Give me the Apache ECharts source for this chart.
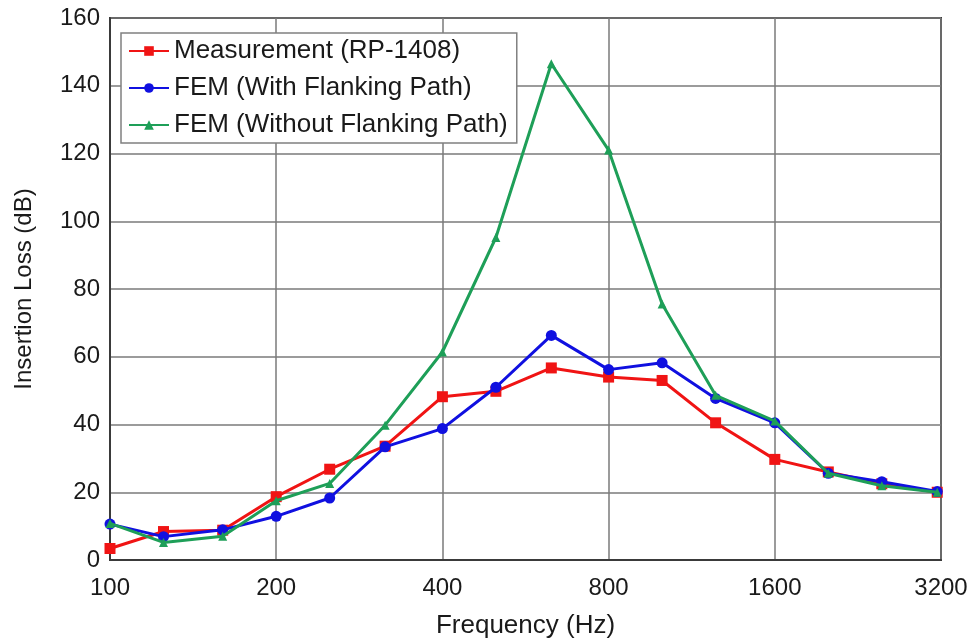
<!DOCTYPE html>
<html>
<head>
<meta charset="utf-8">
<script src="https://cdn.jsdelivr.net/npm/echarts@6/dist/echarts.min.js"></script>
<style>
html,body{margin:0;padding:0;background:#fff;}
#chart{width:975px;height:644px;}
</style>
</head>
<body>
<div id="chart"></div>
<script>
// Frequencies (Hz), one-third octave bands
const frequencies = [100,125,160,200,250,315,400,500,630,800,1000,1250,1600,2000,2500,3150];
// Insertion loss (dB)
const measurement = [3.4, 8.4, 8.8, 18.7, 26.8, 33.6, 48.2, 49.8, 56.7, 54.0, 53.0, 40.5, 29.7, 26.0, 22.5, 20.0];
const femWith     = [10.6, 6.9, 8.9, 12.9, 18.3, 33.4, 38.8, 51.0, 66.3, 56.2, 58.2, 47.7, 40.5, 25.6, 23.1, 20.2];
const femWithout  = [10.8, 5.2, 7.0, 17.5, 22.6, 39.8, 61.4, 95.2, 146.5, 121.0, 75.6, 48.6, 41.0, 25.6, 21.9, 20.0];
const seriesNames = ['Measurement (RP-1408)', 'FEM (With Flanking Path)', 'FEM (Without Flanking Path)'];
const xTickFreqs = [100, 200, 400, 800, 1600, 3200];
const yTicks = [0, 20, 40, 60, 80, 100, 120, 140, 160];

const F0 = xTickFreqs[0];
const toOct = f => Math.log2(f / F0);
const pairs = arr => frequencies.map((f, i) => [toOct(f), arr[i]]);

const font = 'Liberation Sans, Arial, sans-serif';
const txt = '#1a1a1a';
const chart = echarts.init(document.getElementById('chart'));
chart.setOption({
  animation: false,
  backgroundColor: '#fff',
  grid: {left: 110, right: 34, top: 18, bottom: 83, show: true, borderColor: '#3a3a3a', borderWidth: 2, backgroundColor: 'transparent'},
  legend: {
    orient: 'vertical', left: 121, top: 33,
    backgroundColor: '#fff', borderColor: '#808080', borderWidth: 1.5,
    padding: [5, 9, 5, 7], itemGap: 11, itemWidth: 40, itemHeight: 12,
    textStyle: {fontFamily: font, fontSize: 26, color: txt},
    data: seriesNames
  },
  xAxis: {
    type: 'value', min: 0, max: toOct(xTickFreqs[xTickFreqs.length - 1]), interval: 1,
    name: 'Frequency (Hz)', nameLocation: 'middle', nameGap: 53,
    nameTextStyle: {fontFamily: font, fontSize: 26, color: txt},
    axisLine: {show: true, lineStyle: {color: '#3a3a3a', width: 2}},
    axisTick: {show: false},
    axisLabel: {fontFamily: font, fontSize: 24, color: txt, margin: 16,
      formatter: v => String(Math.round(F0 * Math.pow(2, v)))},
    splitLine: {show: true, lineStyle: {color: '#7a7a7a', width: 1.5}}
  },
  yAxis: {
    type: 'value', min: yTicks[0], max: yTicks[yTicks.length - 1], interval: 20,
    name: 'Insertion Loss (dB)', nameLocation: 'middle', nameGap: 74,
    nameTextStyle: {fontFamily: font, fontSize: 24, color: txt},
    axisLine: {show: true, lineStyle: {color: '#3a3a3a', width: 2}},
    axisTick: {show: false},
    axisLabel: {fontFamily: font, fontSize: 24, color: txt, margin: 10},
    splitLine: {show: true, lineStyle: {color: '#7a7a7a', width: 1.5}}
  },
  series: [
    {name: seriesNames[0], type: 'line', data: pairs(measurement), symbol: 'rect', symbolSize: 11,
      lineStyle: {color: '#f01414', width: 3}, itemStyle: {color: '#f01414'}, z: 3},
    {name: seriesNames[1], type: 'line', data: pairs(femWith), symbol: 'circle', symbolSize: 11,
      lineStyle: {color: '#1010e0', width: 3}, itemStyle: {color: '#1010e0'}, z: 4},
    {name: seriesNames[2], type: 'line', data: pairs(femWithout), symbol: 'triangle', symbolSize: 9,
      lineStyle: {color: '#1e9f58', width: 3}, itemStyle: {color: '#1e9f58'}, z: 5}
  ]
});
</script>
</body>
</html>
